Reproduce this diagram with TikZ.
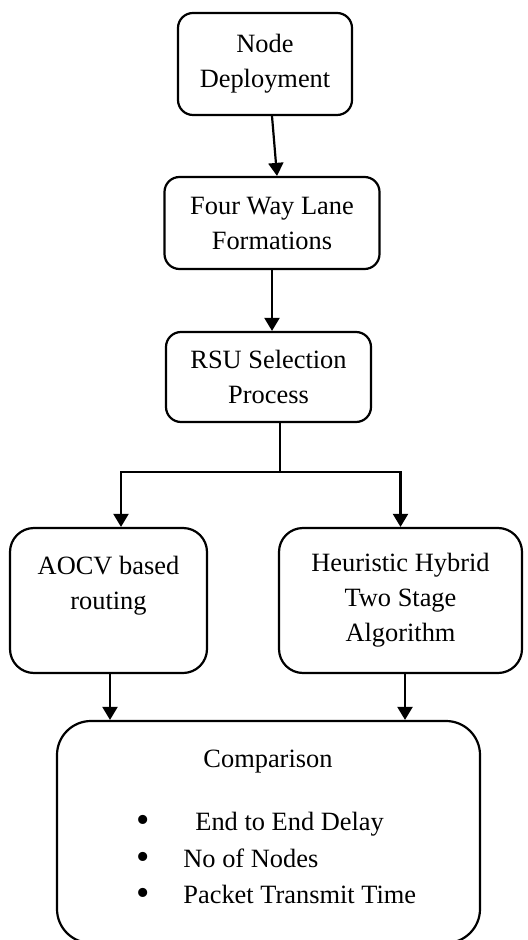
\documentclass[tikz,border=0pt]{standalone}
\usepackage{fontspec}
\setmainfont{Liberation Serif}
\usetikzlibrary{arrows.meta, positioning}

\newcommand{\bigdot}{\raisebox{-1.2pt}{\fontsize{19}{19}\selectfont\textbullet}}

\begin{document}
\begin{tikzpicture}[
  x=0.5pt, y=-0.5pt,
  line width=1.1pt,
  stage/.style={rectangle, rounded corners=7.5pt, draw, align=center, inner sep=2pt},
  method/.style={rectangle, rounded corners=12pt, draw, align=center, inner sep=2pt, minimum height=72.5pt},
  result/.style={rectangle, rounded corners=17pt, draw, minimum width=211.5pt, minimum height=111pt},
  item/.style={anchor=base west, inner sep=0pt},
  arr/.style={-{Triangle[length=6.5pt, width=7.5pt]}},
  font=\fontsize{13.2}{17.5}\selectfont
]
\useasboundingbox (0,0) rectangle (528,940);
\node[stage, minimum width=87pt, minimum height=51pt] (deploy) at (265,64) {Node\\Deployment};
\node[stage, minimum width=107.5pt, minimum height=46pt] (lane) at (272,223) {Four Way Lane\\Formations};
\node[stage, minimum width=102.5pt, minimum height=45pt] (rsu) at (268.5,377) {RSU Selection\\Process};
\node[method, minimum width=98.5pt] (aocv) at (108.5,600.5) {AOCV based\\routing\\\mbox{}};
\node[method, minimum width=121.5pt] (hybrid) at (400.5,600.5) {Heuristic Hybrid\\Two Stage\\Algorithm};
\node[result] (cmp) at (268.5,832) {};
\node[anchor=base, inner sep=0pt] (cmptitle) at (268,767) {Comparison};
\node[item] (delay) at (135,830) {\bigdot\hspace{23pt}End to End Delay};
\node[item] (nodes) at (135,867) {\bigdot\hspace{17pt}No of Nodes};
\node[item] (ptime) at (135,903) {\bigdot\hspace{17pt}Packet Transmit Time};
\coordinate (split) at (280,472);
\draw[arr] ([xshift=3.5pt]deploy.south) -- ([xshift=2.5pt]lane.north);
\draw[arr] (lane.south) -- (lane.south |- rsu.north);
\draw ([xshift=5.75pt]rsu.south) -- (split);
\draw[arr] (split) -| ([xshift=6.25pt]aocv.north);
\draw[arr] (split) -| (hybrid.north);
\draw[arr] ([xshift=0.75pt]aocv.south) -- ([xshift=0.75pt]aocv.south |- cmp.north);
\draw[arr] ([xshift=2.25pt]hybrid.south) -- ([xshift=2.25pt]hybrid.south |- cmp.north);
\end{tikzpicture}
\end{document}
